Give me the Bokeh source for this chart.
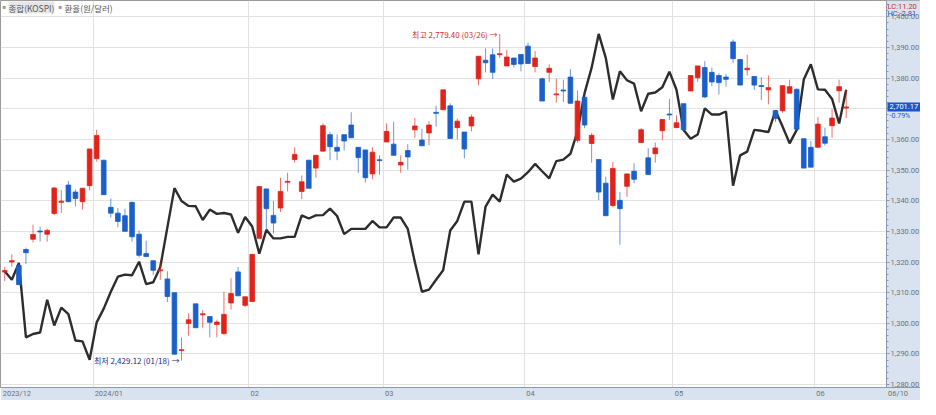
import numpy as np
from bokeh.plotting import figure
from bokeh.models import Range1d, FixedTicker, Label, NumeralTickFormatter, BoxAnnotation
from bokeh.embed import file_html
from bokeh.resources import INLINE

# ---------------- data ----------------
month_labels = ["2023/12", "2024/01", "02", "03", "04", "05", "06"]
days_in_month = [13, 22, 19, 20, 21, 20, 5]
last_date = "06/10"
max_date = "03/26"
min_date = "01/18"
lc_text = "LC:11.20"
hc_text = "HC:-2.81"
change_pct = "-0.79%"

k_open = [2524.1, 2534.9, 2531.1, 2548.3, 2559.3, 2568.1, 2564.7, 2587.0, 2598.9, 2617.4,
          2609.9, 2599.6, 2616.8, 2645.9, 2644.1, 2593.5, 2587.3, 2584.5, 2598.9, 2564.7,
          2543.9, 2536.3, 2525.4, 2516.7, 2502.0, 2439.9, 2468.9, 2490.0, 2478.2, 2476.4,
          2467.8, 2458.2, 2491.0, 2524.3, 2488.4, 2492.5, 2560.3, 2613.3, 2584.9, 2592.8,
          2620.4, 2644.8, 2610.6, 2644.1, 2635.6, 2653.8, 2671.5, 2657.9, 2671.5, 2681.8,
          2657.9, 2655.1, 2629.4, 2644.6, 2663.6, 2661.3, 2639.0, 2654.4, 2676.7, 2665.7,
          2673.3, 2695.4, 2698.2, 2702.4, 2679.0, 2674.3, 2680.8, 2731.4, 2751.3, 2757.1,
          2757.3, 2745.2, 2753.7, 2757.5, 2766.4, 2744.5, 2731.4, 2738.3, 2714.2, 2719.3,
          2733.2, 2665.4, 2711.6, 2662.0, 2644.8, 2619.4, 2595.5, 2601.0, 2616.1, 2632.2,
          2663.0, 2646.6, 2651.0, 2675.7, 2693.6, 2679.0, 2704.7, 2718.3, 2732.5, 2743.4,
          2738.3, 2734.9, 2733.2, 2770.9, 2752.0, 2741.1, 2733.9, 2724.1, 2719.5, 2697.2,
          2697.2, 2716.0, 2720.1, 2667.1, 2657.9, 2657.9, 2669.2, 2681.1, 2718.5, 2700.0]
k_high = [2529.8, 2543.1, 2533.9, 2550.3, 2575.0, 2572.9, 2570.6, 2615.0, 2612.0, 2621.9,
          2612.7, 2614.0, 2656.1, 2676.7, 2644.1, 2603.0, 2592.8, 2592.1, 2599.6, 2568.8,
          2557.8, 2536.3, 2534.6, 2525.0, 2502.0, 2454.1, 2479.8, 2490.0, 2483.3, 2476.4,
          2473.0, 2503.1, 2517.5, 2529.5, 2497.6, 2543.1, 2615.8, 2613.3, 2600.4, 2625.3,
          2630.5, 2657.9, 2627.7, 2644.1, 2649.3, 2683.6, 2674.3, 2671.5, 2671.5, 2695.5,
          2657.9, 2655.1, 2657.9, 2649.3, 2683.6, 2685.2, 2649.3, 2661.3, 2689.3, 2677.7,
          2685.9, 2702.4, 2719.5, 2705.1, 2688.7, 2674.3, 2693.1, 2755.5, 2764.0, 2764.0,
          2779.4, 2762.2, 2753.7, 2757.5, 2770.2, 2761.2, 2732.5, 2746.8, 2731.4, 2730.4,
          2741.7, 2718.8, 2711.6, 2673.3, 2644.8, 2626.3, 2642.1, 2609.9, 2629.4, 2640.7,
          2678.4, 2656.9, 2663.0, 2687.7, 2709.9, 2692.1, 2704.7, 2734.9, 2745.2, 2750.3,
          2743.4, 2737.3, 2736.6, 2773.5, 2752.0, 2757.1, 2733.9, 2733.2, 2734.9, 2697.2,
          2724.0, 2730.4, 2721.2, 2667.1, 2664.6, 2690.3, 2679.0, 2699.0, 2730.4, 2719.5]
k_low = [2514.4, 2529.8, 2510.6, 2532.9, 2555.8, 2556.8, 2556.8, 2585.3, 2587.6, 2599.6,
         2594.5, 2591.1, 2611.6, 2642.5, 2607.1, 2582.5, 2572.2, 2567.8, 2556.8, 2539.8,
         2540.8, 2520.9, 2515.7, 2491.8, 2436.0, 2429.12, 2455.8, 2464.4, 2464.4, 2454.1,
         2454.1, 2456.5, 2483.9, 2498.6, 2486.6, 2492.5, 2560.3, 2568.8, 2565.4, 2588.6,
         2610.6, 2641.5, 2602.4, 2614.0, 2625.3, 2653.8, 2644.1, 2644.1, 2654.4, 2668.1,
         2630.5, 2620.2, 2623.6, 2628.7, 2663.6, 2649.3, 2630.5, 2633.9, 2668.1, 2659.5,
         2660.2, 2680.1, 2698.2, 2667.4, 2666.4, 2645.9, 2675.0, 2724.6, 2738.3, 2731.4,
         2753.7, 2745.2, 2743.4, 2739.3, 2747.8, 2738.3, 2707.5, 2728.0, 2705.8, 2706.5,
         2705.1, 2663.0, 2678.4, 2641.5, 2601.4, 2584.5, 2593.5, 2553.4, 2604.8, 2619.4,
         2663.0, 2628.7, 2641.5, 2665.4, 2687.0, 2679.0, 2675.0, 2718.3, 2728.0, 2710.9,
         2723.6, 2714.4, 2722.9, 2748.6, 2724.6, 2734.9, 2719.5, 2708.5, 2704.1, 2685.2,
         2694.9, 2716.0, 2677.4, 2635.6, 2636.6, 2657.9, 2659.5, 2668.1, 2705.8, 2689.3]
k_close = [2525.7, 2536.3, 2510.6, 2544.9, 2564.4, 2567.1, 2568.8, 2614.3, 2600.1, 2599.6,
           2603.0, 2614.0, 2656.1, 2670.5, 2607.1, 2587.3, 2578.4, 2567.8, 2561.9, 2542.1,
           2540.8, 2526.0, 2526.5, 2497.9, 2436.0, 2440.9, 2473.0, 2464.4, 2479.3, 2470.2,
           2470.5, 2478.7, 2501.0, 2498.6, 2497.6, 2543.1, 2615.8, 2592.1, 2576.7, 2610.6,
           2621.4, 2650.3, 2620.9, 2614.0, 2649.3, 2681.1, 2658.5, 2653.8, 2664.6, 2668.1,
           2646.9, 2625.3, 2652.7, 2643.6, 2675.0, 2649.3, 2641.8, 2647.6, 2680.8, 2659.5,
           2681.8, 2694.3, 2719.5, 2667.4, 2685.9, 2656.1, 2690.3, 2755.5, 2748.6, 2738.3,
           2758.3, 2754.7, 2746.8, 2747.3, 2747.8, 2753.7, 2707.5, 2742.7, 2715.2, 2718.3,
           2705.1, 2707.5, 2681.8, 2670.8, 2609.9, 2584.5, 2635.3, 2592.1, 2629.4, 2623.6,
           2676.7, 2628.7, 2657.2, 2687.7, 2692.6, 2684.2, 2676.7, 2734.9, 2745.2, 2711.9,
           2728.0, 2727.3, 2730.8, 2753.0, 2724.6, 2742.7, 2724.6, 2723.1, 2721.9, 2688.7,
           2724.0, 2722.9, 2677.4, 2635.6, 2636.6, 2682.8, 2662.3, 2689.3, 2722.9, 2701.17]
fx_rate = [1317.0, 1314.2, 1319.7, 1295.4, 1296.5, 1297.0, 1307.7, 1299.3, 1305.1, 1303.0,
           1294.4, 1294.1, 1288.1, 1300.3, 1304.8, 1310.3, 1315.2, 1315.9, 1315.7, 1320.1,
           1312.8, 1313.4, 1318.4, 1331.3, 1344.1, 1339.9, 1338.3, 1338.2, 1333.7, 1337.1,
           1335.7, 1336.0, 1335.5, 1329.5, 1334.7, 1331.6, 1322.7, 1330.5, 1327.7, 1327.7,
           1328.2, 1328.2, 1335.2, 1334.2, 1335.2, 1335.3, 1337.4, 1335.0, 1329.1, 1330.8,
           1330.8, 1330.8, 1333.4, 1331.3, 1331.3, 1334.5, 1334.5, 1330.8, 1319.9, 1310.3,
           1311.0, 1314.2, 1317.3, 1330.3, 1333.4, 1339.7, 1339.7, 1322.5, 1338.1, 1342.0,
           1339.7, 1348.5, 1346.2, 1347.2, 1349.3, 1352.0, 1349.6, 1347.3, 1352.9, 1353.4,
           1355.3, 1362.6, 1375.1, 1383.4, 1394.4, 1386.6, 1373.0, 1382.2, 1379.3, 1378.2,
           1369.2, 1374.9, 1375.3, 1377.0, 1382.1, 1376.2, 1363.1, 1360.2, 1361.6, 1370.1,
           1368.1, 1368.1, 1369.1, 1344.9, 1354.8, 1356.0, 1363.1, 1362.8, 1362.4, 1369.4,
           1364.2, 1358.7, 1363.1, 1379.5, 1384.5, 1376.3, 1376.2, 1373.2, 1365.2, 1376.2]

# ---------------- styling ----------------
RED = "#e2231a"
BLUE = "#1b5fc9"
PANEL = "#d9e3f0"
GRID = "#e2e2e2"
AXIS_FONT = "Roboto"
KR_FONT = "Noto Sans CJK KR"
FW, FH = 920, 387          # frame incl. the right value panel
PANEL_W = 34               # width of the right value panel (px)
CHART_W = FW - PANEL_W

n = len(k_open)
idx = np.arange(n)
o = np.array(k_open); h = np.array(k_high); l = np.array(k_low); c = np.array(k_close)
up = c >= o
colors = [RED if u else BLUE for u in up]
body_top = np.maximum(o, c)
body_bot = np.minimum(o, c)

x0, x1 = -0.6, 124.7                # chart part of the x range
pxpi = CHART_W / (x1 - x0)
x_end = x1 + PANEL_W / pxpi         # panel part
fx_lo, fx_hi = 1279.06, 1405.31
k_lo, k_hi = 2400.3, 2815.35

p = figure(frame_width=FW, frame_height=FH, x_range=Range1d(x0, x_end),
           y_range=Range1d(fx_lo, fx_hi), y_axis_location="right",
           output_backend="svg", toolbar_location=None,
           min_border_left=0, min_border_top=0, min_border_right=0, min_border_bottom=12)
p.extra_y_ranges = {"k": Range1d(k_lo, k_hi)}
p.border_fill_color = PANEL
p.background_fill_color = "white"
p.outline_line_color = "#9a9a9a"

# grids
bounds = np.cumsum([0] + days_in_month)[:-1] - 0.5
p.xgrid.ticker = FixedTicker(ticks=list(bounds[1:]))
p.xgrid.grid_line_color = GRID
p.ygrid.ticker = FixedTicker(ticks=list(range(1280, 1401, 10)))
p.ygrid.grid_line_color = GRID

# right value panel background (covers the grid there)
p.add_layout(BoxAnnotation(left=x1, right=x_end, fill_color=PANEL, fill_alpha=1.0,
                           line_color=None, level="underlay"))

# exchange-rate axis, pinned at the panel's left edge
ya = p.yaxis[0]
ya.fixed_location = x1
ya.ticker = FixedTicker(ticks=list(range(1280, 1401, 10)),
                        minor_ticks=list(np.arange(1280, 1405, 2.0)))
ya.formatter = NumeralTickFormatter(format="0,0.00")
ya.major_label_text_font = AXIS_FONT
ya.major_label_text_font_size = "7.5px"
ya.major_label_text_color = "#707070"
ya.axis_line_color = "#8c9ab0"
ya.major_tick_line_color = "#8c9ab0"
ya.minor_tick_line_color = "#8c9ab0"
ya.major_tick_out = 3
ya.major_tick_in = 0
ya.minor_tick_out = 2
ya.minor_tick_in = 0
ya.major_label_standoff = 1

# bottom axis (months, left aligned at month starts, plus last date under the panel)
def label_w(s):
    return sum(2.8 if ch == "/" else 4.1 for ch in s)
label_starts = list(bounds) + [x1]
labels_all = month_labels + [last_date]
tick_pos = [b + (2.0 + label_w(s) / 2.0) / pxpi for b, s in zip(label_starts, labels_all)]
xa = p.xaxis[0]
xa.ticker = FixedTicker(ticks=tick_pos)
xa.major_label_overrides = {t: s for t, s in zip(tick_pos, labels_all)}
xa.major_label_text_font = AXIS_FONT
xa.major_label_text_font_size = "7.5px"
xa.major_label_text_color = "#707070"
xa.axis_line_color = "#8c9ab0"
xa.major_tick_line_color = None
xa.minor_tick_line_color = None
xa.major_tick_out = 0
xa.major_label_standoff = 1

# exchange-rate line
p.line(idx, fx_rate, line_color="#2d2d2d", line_width=2.4)

# candles (KOSPI)
p.segment(x0=idx, y0=l, x1=idx, y1=h, line_color=colors, line_alpha=0.65,
          line_width=1, y_range_name="k")
p.vbar(x=idx, width=0.66, top=body_top, bottom=body_bot, fill_color=colors,
       line_color=colors, line_width=0.8, y_range_name="k")

# max / min annotations
imax = int(np.argmax(h)); imin = int(np.argmin(l))
p.add_layout(Label(x=imax - 0.3, y=h[imax], y_range_name="k",
                   text=f"최고 {h[imax]:,.2f} ({max_date}) →", text_align="right",
                   text_baseline="middle", text_font=KR_FONT, text_font_size="8px",
                   text_color="#cc2e2e"))
p.add_layout(Label(x=imin - 0.3, y=l[imin], y_range_name="k",
                   text=f"최저 {l[imin]:,.2f} ({min_date}) →", text_align="right",
                   text_baseline="middle", text_font=KR_FONT, text_font_size="8px",
                   text_color="#27278c"))

# legend (top-left), screen units relative to the frame
p.add_layout(Label(x=2, y=FH - 3, x_units="screen", y_units="screen", text="■",
                   text_baseline="top", text_font_size="6px", text_color="#9a9a9a"))
p.add_layout(Label(x=8, y=FH - 1, x_units="screen", y_units="screen", text="종합(KOSPI)",
                   text_baseline="top", text_font=KR_FONT, text_font_size="8.5px",
                   text_color="#555555", background_fill_color="#e6e6e6"))
p.add_layout(Label(x=58, y=FH - 3, x_units="screen", y_units="screen", text="■",
                   text_baseline="top", text_font_size="6px", text_color="#9a9a9a"))
p.add_layout(Label(x=64, y=FH - 1, x_units="screen", y_units="screen", text="환율(원/달러)",
                   text_baseline="top", text_font=KR_FONT, text_font_size="8.5px",
                   text_color="#555555"))

# right-panel items
p.add_layout(Label(x=x1, y=fx_hi, x_offset=1, y_offset=-1, text=lc_text,
                   text_baseline="top", text_font=AXIS_FONT, text_font_size="7.5px",
                   text_color="#d42a2a"))
p.add_layout(Label(x=x1, y=fx_hi, x_offset=1, y_offset=-8, text=hc_text,
                   text_baseline="top", text_font=AXIS_FONT, text_font_size="7.5px",
                   text_color="#2456c8"))
p.add_layout(Label(x=x1, y=c[-1], y_range_name="k", x_offset=1, text=f"{c[-1]:,.2f}",
                   text_baseline="middle", text_font=AXIS_FONT, text_font_size="7.5px",
                   text_color="white", background_fill_color="#1d55c6", padding=2))
p.add_layout(Label(x=x1, y=c[-1], y_range_name="k", x_offset=3, y_offset=-5,
                   text=change_pct, text_baseline="top", text_font=AXIS_FONT,
                   text_font_size="7px", text_color="#2456c8"))

open("out.html", "w").write(file_html(p, INLINE))
